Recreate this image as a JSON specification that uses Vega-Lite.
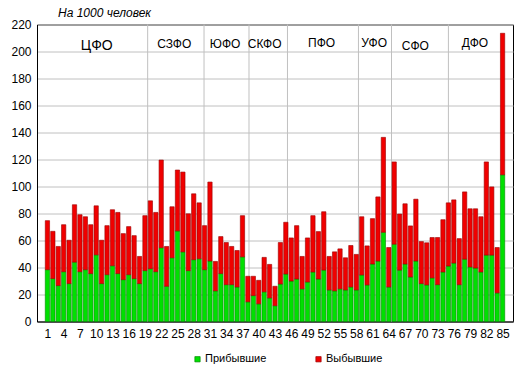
{
  "$schema": "https://vega.github.io/schema/vega-lite/v6.json",
  "autosize": "none",
  "width": 476,
  "height": 297,
  "padding": {"left": 37, "top": 24.5, "right": 7, "bottom": 54.5},
  "background": "#ffffff",
  "title": {"text": "На 1000 человек", "anchor": "start", "frame": "group", "fontStyle": "italic", "fontWeight": "normal", "fontSize": 12, "font": "Liberation Sans", "color": "#000000", "dx": 21, "dy": 16, "offset": 3, "baseline": "bottom"},
  "datasets": {
    "reg": [
      {"n":1,"Прибывшие":38.4,"Выбывшие":36.3},
      {"n":2,"Прибывшие":31.8,"Выбывшие":35.0},
      {"n":3,"Прибывшие":26.6,"Выбывшие":29.0},
      {"n":4,"Прибывшие":36.9,"Выбывшие":34.8},
      {"n":5,"Прибывшие":28.1,"Выбывшие":32.1},
      {"n":6,"Прибывшие":44.0,"Выбывшие":42.5},
      {"n":7,"Прибывшие":36.9,"Выбывшие":42.2},
      {"n":8,"Прибывшие":38.4,"Выбывшие":39.2},
      {"n":9,"Прибывшие":35.5,"Выбывшие":36.2},
      {"n":10,"Прибывшие":49.4,"Выбывшие":36.3},
      {"n":11,"Прибывшие":28.1,"Выбывшие":32.1},
      {"n":12,"Прибывшие":34.7,"Выбывшие":36.3},
      {"n":13,"Прибывшие":41.3,"Выбывшие":41.5},
      {"n":14,"Прибывшие":35.5,"Выбывшие":45.3},
      {"n":15,"Прибывшие":31.0,"Выбывшие":34.1},
      {"n":16,"Прибывшие":34.7,"Выбывшие":35.6},
      {"n":17,"Прибывшие":31.8,"Выбывшие":31.8},
      {"n":18,"Прибывшие":28.1,"Выбывшие":20.1},
      {"n":19,"Прибывшие":37.7,"Выбывшие":40.7},
      {"n":20,"Прибывшие":39.1,"Выбывшие":50.3},
      {"n":21,"Прибывшие":36.9,"Выбывшие":43.9},
      {"n":22,"Прибывшие":54.6,"Выбывшие":65.0},
      {"n":23,"Прибывшие":26.1,"Выбывшие":29.5},
      {"n":24,"Прибывшие":47.2,"Выбывшие":37.8},
      {"n":25,"Прибывшие":67.1,"Выбывшие":45.1},
      {"n":26,"Прибывшие":51.6,"Выбывшие":59.1},
      {"n":27,"Прибывшие":37.7,"Выбывшие":42.1},
      {"n":28,"Прибывшие":45.8,"Выбывшие":48.8},
      {"n":29,"Прибывшие":46.5,"Выбывшие":41.4},
      {"n":30,"Прибывшие":38.4,"Выбывшие":32.6},
      {"n":31,"Прибывшие":44.8,"Выбывшие":58.5},
      {"n":32,"Прибывшие":22.7,"Выбывшие":21.8},
      {"n":33,"Прибывшие":35.5,"Выбывшие":27.4},
      {"n":34,"Прибывшие":27.3,"Выбывшие":31.2},
      {"n":35,"Прибывшие":27.3,"Выбывшие":28.3},
      {"n":36,"Прибывшие":25.6,"Выбывшие":27.0},
      {"n":37,"Прибывшие":47.9,"Выбывшие":30.5},
      {"n":38,"Прибывшие":14.6,"Выбывшие":18.9},
      {"n":39,"Прибывшие":19.2,"Выбывшие":14.3},
      {"n":40,"Прибывшие":13.1,"Выбывшие":17.4},
      {"n":41,"Прибывшие":22.0,"Выбывшие":25.5},
      {"n":42,"Прибывшие":17.5,"Выбывшие":24.8},
      {"n":43,"Прибывшие":11.7,"Выбывшие":14.4},
      {"n":44,"Прибывшие":27.8,"Выбывшие":30.7},
      {"n":45,"Прибывшие":35.2,"Выбывшие":38.3},
      {"n":46,"Прибывшие":30.0,"Выбывшие":31.9},
      {"n":47,"Прибывшие":31.5,"Выбывшие":39.5},
      {"n":48,"Прибывшие":24.2,"Выбывшие":24.0},
      {"n":49,"Прибывшие":29.3,"Выбывшие":32.6},
      {"n":50,"Прибывшие":36.7,"Выбывшие":41.7},
      {"n":51,"Прибывшие":31.5,"Выбывшие":35.1},
      {"n":52,"Прибывшие":38.1,"Выбывшие":43.2},
      {"n":53,"Прибывшие":23.4,"Выбывшие":24.8},
      {"n":54,"Прибывшие":22.7,"Выбывшие":28.9},
      {"n":55,"Прибывшие":24.2,"Выбывшие":29.6},
      {"n":56,"Прибывшие":23.4,"Выбывшие":23.8},
      {"n":57,"Прибывшие":25.6,"Выбывшие":30.7},
      {"n":58,"Прибывшие":23.4,"Выбывшие":26.3},
      {"n":59,"Прибывшие":34.5,"Выбывшие":43.1},
      {"n":60,"Прибывшие":27.1,"Выбывшие":28.9},
      {"n":61,"Прибывшие":42.6,"Выбывшие":33.6},
      {"n":62,"Прибывшие":44.8,"Выбывшие":47.5},
      {"n":63,"Прибывшие":66.1,"Выбывшие":70.3},
      {"n":64,"Прибывшие":25.6,"Выбывшие":29.2},
      {"n":65,"Прибывшие":57.3,"Выбывшие":60.9},
      {"n":66,"Прибывшие":38.1,"Выбывшие":41.5},
      {"n":67,"Прибывшие":42.6,"Выбывшие":44.6},
      {"n":68,"Прибывшие":33.0,"Выбывшие":37.8},
      {"n":69,"Прибывшие":44.8,"Выбывшие":45.8},
      {"n":70,"Прибывшие":28.1,"Выбывшие":31.1},
      {"n":71,"Прибывшие":27.1,"Выбывшие":31.2},
      {"n":72,"Прибывшие":32.3,"Выбывшие":29.9},
      {"n":73,"Прибывшие":27.3,"Выбывшие":34.9},
      {"n":74,"Прибывшие":36.7,"Выбывшие":38.7},
      {"n":75,"Прибывшие":41.1,"Выбывшие":46.8},
      {"n":76,"Прибывшие":43.3,"Выбывшие":46.8},
      {"n":77,"Прибывшие":27.3,"Выбывшие":34.1},
      {"n":78,"Прибывшие":46.2,"Выбывшие":49.8},
      {"n":79,"Прибывшие":40.4,"Выбывшие":43.1},
      {"n":80,"Прибывшие":39.6,"Выбывшие":43.9},
      {"n":81,"Прибывшие":36.7,"Выбывшие":40.9},
      {"n":82,"Прибывшие":49.2,"Выбывшие":69.0},
      {"n":83,"Прибывшие":49.2,"Выбывшие":50.5},
      {"n":84,"Прибывшие":21.2,"Выбывшие":33.6},
      {"n":85,"Прибывшие":108.7,"Выбывшие":104.8}
    ],
    "districts": [
      {"t":"ЦФО","x":10.1,"y":204},
      {"t":"СЗФО","x":24.4,"y":205.5},
      {"t":"ЮФО","x":33.8,"y":205.5},
      {"t":"СКФО","x":41.1,"y":205.5},
      {"t":"ПФО","x":51.6,"y":206.3},
      {"t":"УФО","x":61.3,"y":206.3},
      {"t":"СФО","x":68.9,"y":204},
      {"t":"ДФО","x":79.9,"y":206}
    ],
    "dividers": [
      {"b":19.5},{"b":29.9},{"b":38.2},{"b":45.3},{"b":58.4},{"b":64.5},{"b":75.0}
    ]
  },
  "layer": [
    {
      "data": {"name": "dividers"},
      "mark": {"type": "rule", "color": "#c0c0c0", "strokeWidth": 1},
      "encoding": {
        "x": {"field": "b", "type": "quantitative", "scale": {"domain": [0, 86], "nice": false, "zero": false},
              "axis": {"values": [1,4,7,10,13,16,19,22,25,28,31,34,37,40,43,46,49,52,55,58,61,64,67,70,73,76,79,82,85], "title": null, "grid": false, "ticks": false, "labelPadding": 7, "labelFlush": false, "labelOverlap": false}}
      }
    },
    {
      "data": {"name": "reg"},
      "transform": [{"fold": ["Прибывшие", "Выбывшие"], "as": ["key", "value"]}],
      "mark": {"type": "bar", "width": 4.3, "strokeWidth": 0.6},
      "encoding": {
        "x": {"field": "n", "type": "quantitative",
              "scale": {"domain": [0, 86], "nice": false, "zero": false},
              "axis": {"values": [1,4,7,10,13,16,19,22,25,28,31,34,37,40,43,46,49,52,55,58,61,64,67,70,73,76,79,82,85], "title": null, "grid": false, "ticks": false, "labelPadding": 7, "labelFlush": false, "labelOverlap": false}},
        "y": {"field": "value", "type": "quantitative", "stack": "zero",
              "scale": {"domain": [0, 220], "nice": false},
              "axis": {"values": [0,20,40,60,80,100,120,140,160,180,200,220], "title": null, "grid": true, "ticks": false, "labelPadding": 6, "labelOverlap": false, "labelFlush": false}},
        "order": {"field": "key", "sort": "descending"},
        "color": {"field": "key", "type": "nominal",
                  "scale": {"domain": ["Прибывшие", "Выбывшие"], "range": ["#00e000", "#f00000"]},
                  "legend": {"title": null, "orient": "none", "direction": "horizontal", "legendX": 155, "legendY": 329, "symbolType": "square", "symbolSize": 28, "symbolStrokeColor": "#303030", "symbolStrokeWidth": 0.7, "labelOffset": 2, "columnPadding": 46, "padding": 0, "labelFontSize": 11, "labelFont": "Liberation Sans", "labelColor": "#000000"}},
        "stroke": {"field": "key", "type": "nominal",
                   "scale": {"domain": ["Прибывшие", "Выбывшие"], "range": ["#008800", "#990000"]},
                   "legend": null}
      }
    },
    {
      "data": {"name": "districts"},
      "mark": {"type": "text", "font": "Liberation Sans", "baseline": "middle", "align": "center", "color": "#000000"},
      "encoding": {
        "x": {"field": "x", "type": "quantitative",
              "axis": {"values": [1,4,7,10,13,16,19,22,25,28,31,34,37,40,43,46,49,52,55,58,61,64,67,70,73,76,79,82,85], "title": null, "grid": false, "ticks": false, "labelPadding": 7, "labelFlush": false, "labelOverlap": false}},
        "y": {"field": "y", "type": "quantitative",
              "axis": {"values": [0,20,40,60,80,100,120,140,160,180,200,220], "title": null, "grid": true, "ticks": false, "labelPadding": 6, "labelOverlap": false, "labelFlush": false}},
        "text": {"field": "t"},
        "size": {"condition": {"test": "datum.t === 'ЦФО'", "value": 14}, "value": 12}
      }
    }
  ],
  "config": {
    "view": {"stroke": "#000000", "strokeWidth": 1},
    "axis": {"labelFont": "Liberation Sans", "labelFontSize": 12, "labelColor": "#000000", "domainColor": "#000000", "domainWidth": 1, "gridColor": "#c0c0c0", "gridWidth": 1, "gridOpacity": 1}
  }
}
